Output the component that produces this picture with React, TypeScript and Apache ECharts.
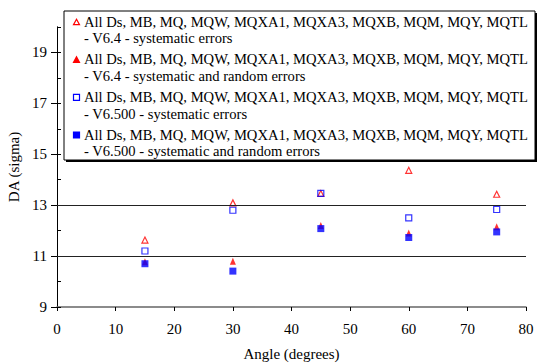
import React, { useEffect, useRef } from "react";
import * as echarts from "echarts";

const angles = [15, 30, 45, 60, 75];
const v64Sys = [11.63, 13.09, 13.46, 14.37, 13.43];
const v64SysRand = [10.78, 10.8, 12.2, 11.91, 12.15];
const v6500Sys = [11.2, 12.8, 13.46, 12.5, 12.83];
const v6500SysRand = [10.7, 10.41, 12.08, 11.73, 11.95];
const refLines = [11, 13];
const yLabelTicks = [9, 11, 13, 15, 17, 19];
const yMinorTicks = [9, 10, 11, 12, 13, 14, 15, 16, 17, 18, 19, 20];

const magnetList = "All Ds, MB, MQ, MQW, MQXA1, MQXA3, MQXB, MQM, MQY, MQTL";
const legendSecondLines = [
  "- V6.4 - systematic errors",
  "- V6.4 - systematic and random errors",
  "- V6.500 - systematic errors",
  "- V6.500 - systematic and random errors",
];

const FONT = "Liberation Serif";
const RED = "#ff0000";
const BLUE = "#0000ff";

export default function App() {
  const ref = useRef<HTMLDivElement>(null);
  useEffect(() => {
    if (!ref.current) return;
    const chart = echarts.init(ref.current, undefined, { renderer: "svg" });
    const fs = 14.6;

    const legendGraphics: any[] = [];
    const boxX = 64, boxY = 11, boxW = 471, boxH = 149;
    legendGraphics.push({
      type: "rect", shape: { x: boxX + 2, y: boxY + 2, width: boxW, height: boxH },
      style: { fill: "#000" }, z: 100,
    });
    legendGraphics.push({
      type: "rect", shape: { x: boxX, y: boxY, width: boxW, height: boxH },
      style: { fill: "#fff", stroke: "#000", lineWidth: 1 }, z: 101,
    });
    const iconX = 76.5;
    const textX = 84;
    const styles = [
      { shape: "tri", fill: "#fff", stroke: RED },
      { shape: "tri", fill: RED, stroke: RED },
      { shape: "sq", fill: "#fff", stroke: BLUE },
      { shape: "sq", fill: BLUE, stroke: BLUE },
    ];
    for (let i = 0; i < 4; i++) {
      const y1 = 21.7 + 37.6 * i;
      const y2 = y1 + 16.7;
      const s = styles[i];
      if (s.shape === "tri") {
        legendGraphics.push({
          type: "polygon", z: 102,
          shape: { points: [[iconX, y1 - 2.5], [iconX - 3, y1 + 3], [iconX + 3, y1 + 3]] },
          style: { fill: s.fill, stroke: s.stroke, lineWidth: 1.2 },
        });
      } else {
        legendGraphics.push({
          type: "rect", z: 102,
          shape: { x: iconX - 3, y: y1 - 2.5, width: 6, height: 6 },
          style: { fill: s.fill, stroke: s.stroke, lineWidth: 1.2 },
        });
      }
      legendGraphics.push({
        type: "text", z: 102, x: textX, y: y1,
        style: { text: magnetList, font: `${fs}px "${FONT}"`, fill: "#000", verticalAlign: "middle", align: "left" },
      });
      legendGraphics.push({
        type: "text", z: 102, x: textX, y: y2,
        style: { text: legendSecondLines[i], font: `${fs}px "${FONT}"`, fill: "#000", verticalAlign: "middle", align: "left" },
      });
    }

    const toPts = (ys: number[]) => angles.map((a, i) => [a, ys[i]]);
    const lbl = { fontFamily: '"Liberation Serif", serif', fontSize: 15, color: "#000" };

    chart.setOption({
      animation: false,
      backgroundColor: "#fff",
      textStyle: { fontFamily: '"Liberation Serif", serif' },
      grid: { left: 57, right: 16, top: 27, bottom: 56, containLabel: false, outerBoundsMode: "none" },
      xAxis: {
        type: "value", min: 0, max: 80, interval: 10,
        name: "Angle (degrees)", nameLocation: "middle", nameGap: 39,
        nameTextStyle: lbl,
        axisLine: { show: true, lineStyle: { color: "#666", width: 1.5 } },
        axisTick: { show: true, inside: false, length: 4, lineStyle: { color: "#000" } },
        axisLabel: { ...lbl, margin: 14 },
        splitLine: { show: false },
      },
      yAxis: [
        {
          type: "value", min: 9, max: 20, interval: 1, position: "left",
          axisLine: { show: true, onZero: false, lineStyle: { color: "#000", width: 1 } },
          axisTick: { show: true, inside: true, length: 4, customValues: yMinorTicks, lineStyle: { color: "#000" } },
          axisLabel: { show: false },
          splitLine: { show: false },
        },
        {
          type: "value", min: 9, max: 20, interval: 1, position: "left", offset: 0,
          name: "DA (sigma)", nameLocation: "middle", nameGap: 28, nameRotate: 90,
          nameTextStyle: lbl,
          axisLine: { show: true, onZero: false, lineStyle: { color: "#000", width: 1 } },
          axisTick: { show: true, inside: false, length: 6, customValues: yLabelTicks, lineStyle: { color: "#000" } },
          axisLabel: { ...lbl, margin: 10, customValues: yLabelTicks },
          splitLine: { show: false },
        },
      ],
      graphic: legendGraphics,
      series: [
        {
          type: "scatter", name: "V6.4 systematic", yAxisIndex: 0,
          symbol: "triangle", symbolSize: [6, 6],
          itemStyle: { color: "rgba(255,255,255,0)", borderColor: RED, borderWidth: 1.2 },
          data: toPts(v64Sys), z: 3,
          markLine: {
            silent: true, symbol: ["none", "none"], label: { show: false },
            lineStyle: { color: "#222", type: "solid", width: 1 },
            data: refLines.map((v) => ({ yAxis: v })),
          },
        },
        {
          type: "scatter", name: "V6.4 systematic and random", yAxisIndex: 0,
          symbol: "triangle", symbolSize: [6, 7],
          itemStyle: { color: RED, borderColor: RED, borderWidth: 0 },
          data: toPts(v64SysRand), z: 3,
        },
        {
          type: "scatter", name: "V6.500 systematic", yAxisIndex: 0,
          symbol: "rect", symbolSize: 6,
          itemStyle: { color: "rgba(255,255,255,0)", borderColor: BLUE, borderWidth: 1.2 },
          data: toPts(v6500Sys), z: 3,
        },
        {
          type: "scatter", name: "V6.500 systematic and random", yAxisIndex: 0,
          symbol: "rect", symbolSize: 7,
          itemStyle: { color: BLUE, borderColor: BLUE, borderWidth: 0 },
          data: toPts(v6500SysRand), z: 3,
        },
      ],
    });
    return () => chart.dispose();
  }, []);
  return <div ref={ref} style={{ width: 542, height: 363, position: "absolute", left: 0, top: 0 }} />;
}
